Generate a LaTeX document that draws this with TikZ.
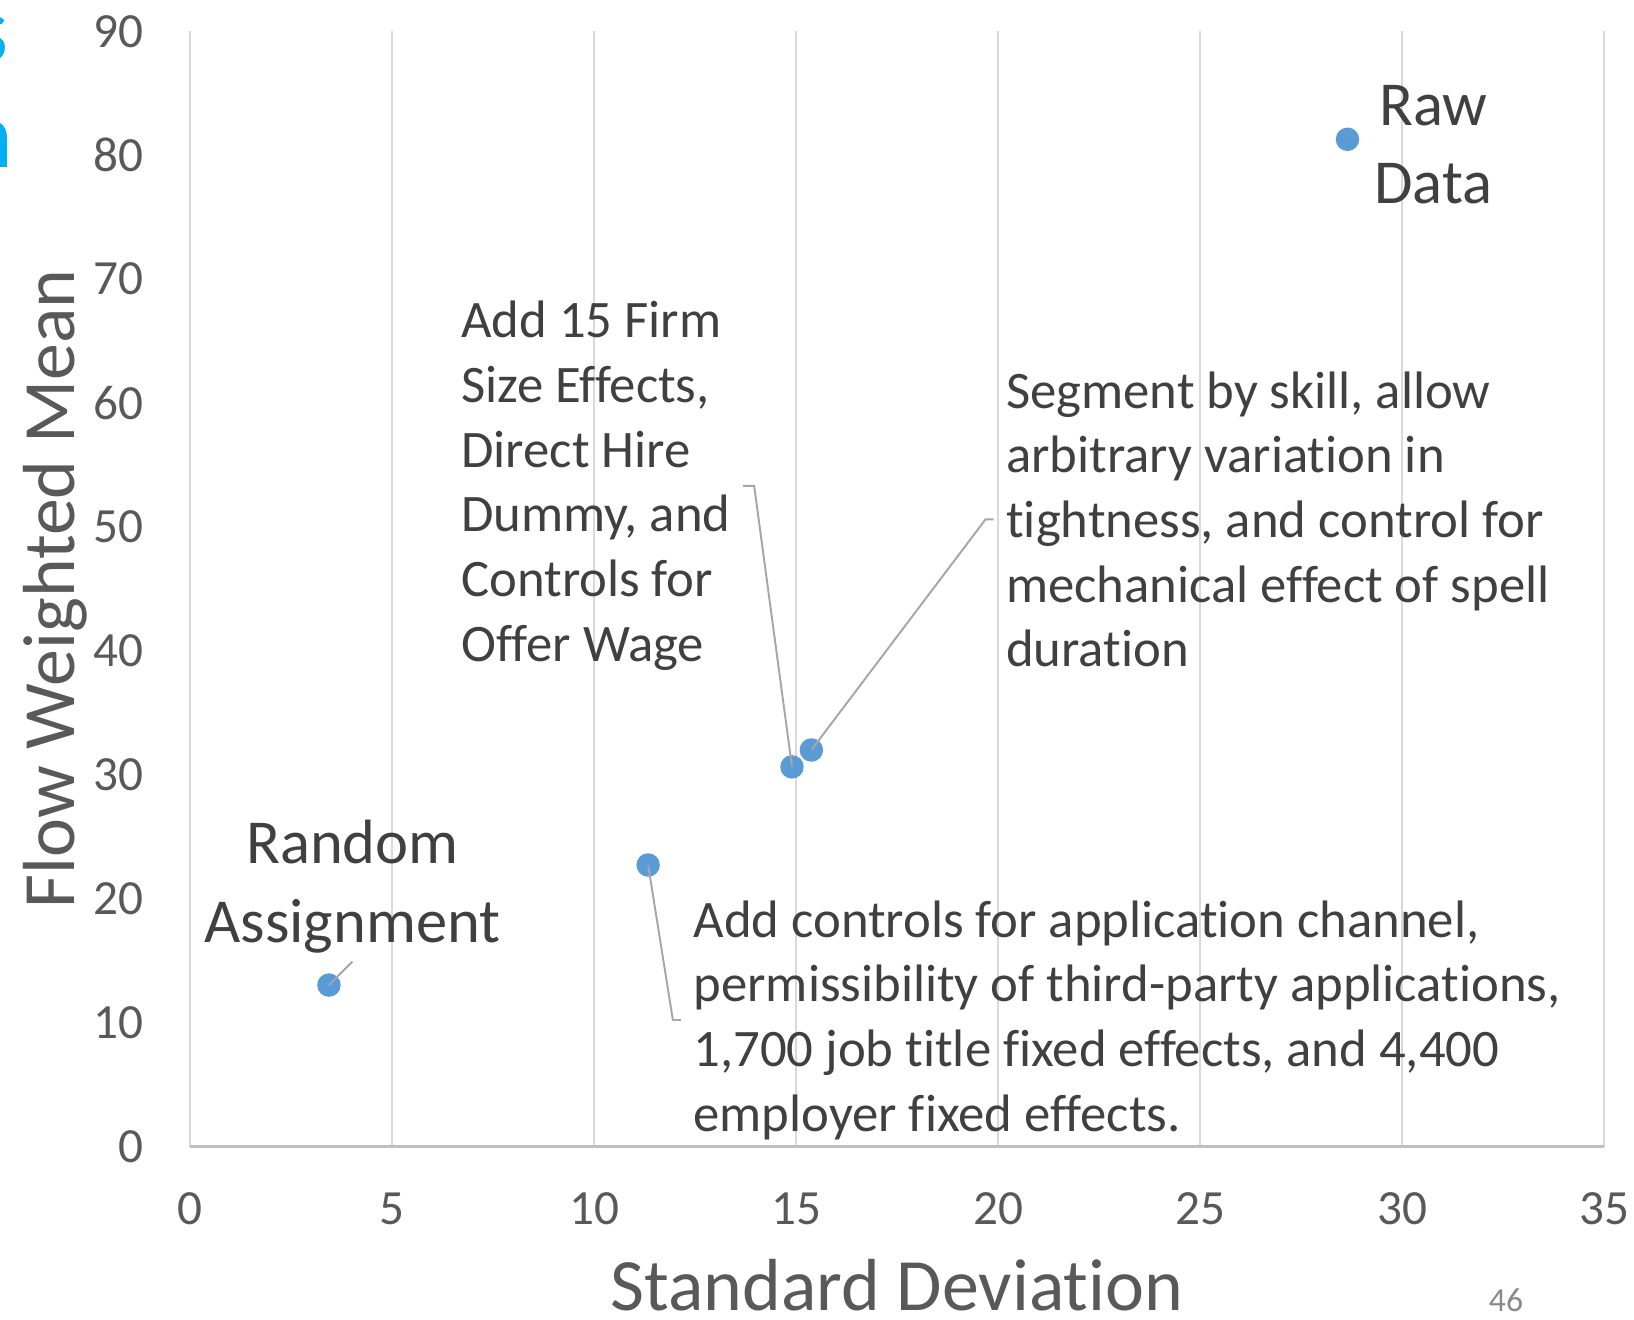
\documentclass[tikz,border=0pt]{standalone}
\usepackage{fontspec}
\setmainfont{Carlito}[RawFeature={-liga;-clig;-calt}]
\usetikzlibrary{positioning}
\definecolor{dotblue}{HTML}{5B9BD5}
\definecolor{txtgrey}{HTML}{404040}
\definecolor{tickgrey}{HTML}{595959}
\definecolor{gridgrey}{HTML}{D9D9D9}
\definecolor{axisgrey}{HTML}{BFBFBF}
\definecolor{leadgrey}{HTML}{A6A6A6}
\definecolor{titlecyan}{HTML}{00B0F0}
\definecolor{pagegrey}{HTML}{898989}
\begin{document}
\begin{tikzpicture}[x=0.404cm, y=0.1239cm,
  dot/.style={circle, fill=dotblue, inner sep=0pt, minimum size=0.235cm},
  leader/.style={draw=leadgrey, line width=0.55pt},
  lbl/.style={text=txtgrey, font=\fontsize{15}{18.4}\selectfont, align=left, inner xsep=0.12cm, inner ysep=0pt},
  lblbig/.style={text=txtgrey, font=\fontsize{17.8}{22.3}\selectfont, align=center, inner sep=0.03cm},
  ticklbl/.style={text=tickgrey, font=\fontsize{14}{16}\selectfont, inner sep=0pt},
  axtitle/.style={text=tickgrey, font=\fontsize{21}{25}\selectfont, inner sep=0pt}]
  \useasboundingbox (-1.90cm,-1.725cm) rectangle (14.44cm,11.465cm);
  % cut-off slide title at the left edge
  \begin{scope}
    \clip (-1.90cm,-1.725cm) rectangle (14.44cm,11.465cm);
    \node[text=titlecyan, font=\fontsize{27}{30}\selectfont, anchor=east, inner sep=0pt] (ttlA) at (-1.81cm,11.075cm) {s};
    \node[text=titlecyan, font=\fontsize{27}{30}\selectfont, anchor=east, inner sep=0pt] (ttlB) at (-1.76cm,10.015cm) {n};
  \end{scope}
  % vertical gridlines and x axis
  \foreach \gx in {0,5,...,35}
    \draw[gridgrey, line width=0.65pt] (\gx,0) -- (\gx,90);
  \draw[axisgrey, line width=1pt] (0,0) -- (35,0);
  % tick labels
  \foreach \gx in {0,5,...,35}
    \node[ticklbl, yshift=-0.625cm] (tx\gx) at (\gx,0) {\gx};
  \foreach \gy in {0,10,...,90}
    \node[ticklbl, anchor=east, xshift=-0.46cm] (ty\gy) at (0,\gy) {\gy};
  % axis titles
  \node[axtitle, anchor=base] (xtitle) at ([yshift=-1.64cm]17.5,0) {Standard Deviation};
  \node[axtitle, anchor=base, rotate=90] (ytitle) at ([xshift=-1.15cm]0,45) {Flow Weighted Mean};
  % data points
  \node[dot] (pA) at (3.44,13.03) {};
  \node[dot] (pB) at (11.34,22.72) {};
  \node[dot] (pC) at (14.90,30.64) {};
  \node[dot] (pD) at (15.38,32.0) {};
  \node[dot] (pE) at (28.65,81.29) {};
  % data labels
  \node[lblbig, anchor=south, inner ysep=0.08cm] (lblA) at (4.02,14.92) {Random\\Assignment};
  \node[lbl, anchor=west] (lblB) at (12.15,10.21) {Add controls for application channel,\\permissibility of third-party applications,\\1,700 job title fixed effects, and 4,400\\employer fixed effects.};
  \node[lbl, anchor=west] (lblC) at (6.40,53.32) {Add 15 Firm\\Size Effects,\\Direct Hire\\Dummy, and\\Controls for\\Offer Wage};
  \node[lbl, anchor=west] (lblD) at (19.89,50.62) {Segment by skill, allow\\arbitrary variation in\\tightness, and control for\\mechanical effect of spell\\duration};
  \node[lblbig] (lblE) at (30.77,80.85) {Raw\\Data};
  % leader lines
  \draw[leader] (pA.center) -- (lblA.south);
  \draw[leader] (pB.center) -- ([xshift=-0.08cm]lblB.west) -- (lblB.west);
  \draw[leader] (pC.center) -- ([xshift=0.11cm]lblC.east) -- (lblC.east);
  \draw[leader] (pD.center) -- ([xshift=-0.08cm]lblD.west) -- (lblD.west);
  % page number
  \node[text=pagegrey, font=\fontsize{9.6}{11}\selectfont, inner sep=0pt] (pgnum) at (13.16cm,-1.542cm) {46};
\end{tikzpicture}
\end{document}
